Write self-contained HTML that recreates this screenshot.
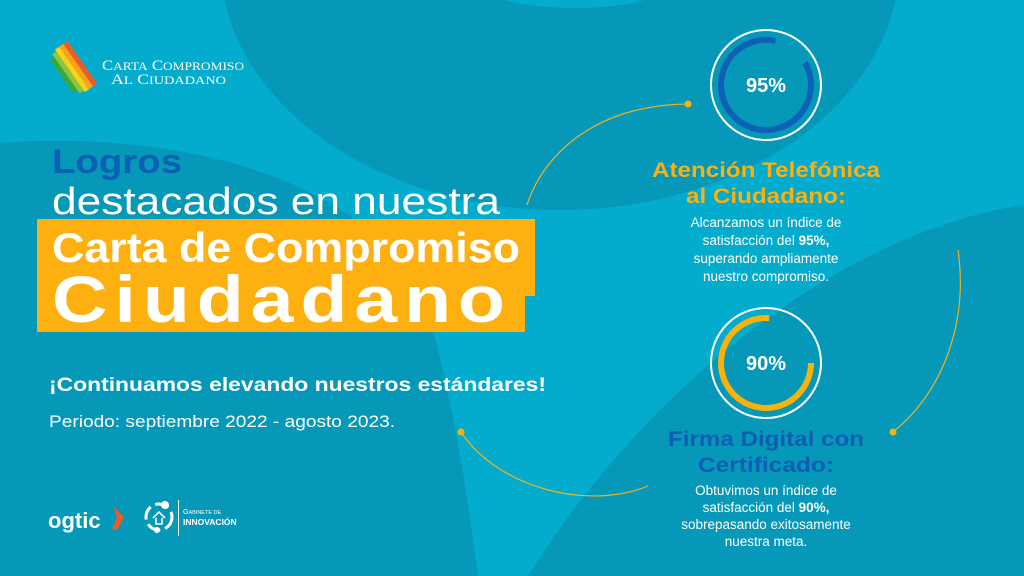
<!DOCTYPE html>
<html><head><meta charset="utf-8"><style>
html,body{margin:0;padding:0;width:1024px;height:576px;overflow:hidden;}
body{font-family:"Liberation Sans",sans-serif;}
</style></head><body>
<svg width="1024" height="576" viewBox="0 0 1024 576" xmlns="http://www.w3.org/2000/svg">
<rect width="1024" height="576" fill="#03abcd"/>
<ellipse cx="560" cy="-40" rx="340" ry="250" fill="#0598b9"/>
<ellipse cx="575" cy="-8" rx="80" ry="16" fill="#03abcd"/>
<path d="M0,143 C200,128 390,190 430,320 C455,410 468,500 478,576 L0,576 Z" fill="#0598b9"/>
<path d="M1024,205 C850,230 650,380 528,576 L1024,576 Z" fill="#0598b9"/>
<path d="M527,205 C545,150 600,105 688,104" fill="none" stroke="#f2b21c" stroke-width="1.2"/>
<circle cx="688" cy="104" r="3.5" fill="#f8b20a"/>
<path d="M958,250 C968,320 945,390 893,432" fill="none" stroke="#f2b21c" stroke-width="1.2"/>
<circle cx="893" cy="432" r="3.5" fill="#f8b20a"/>
<path d="M461,432 C500,490 590,510 648,486" fill="none" stroke="#f2b21c" stroke-width="1.2"/>
<circle cx="461" cy="432" r="3.5" fill="#f8b20a"/>
<g transform="translate(74,68) rotate(55)">
<rect x="-26" y="-10" width="52" height="5" fill="#f15a24"/>
<rect x="-26" y="-5" width="52" height="5" fill="#f7a21b"/>
<rect x="-26" y="0" width="52" height="5" fill="#fcd116"/>
<rect x="-24" y="5" width="48" height="5" fill="#8cc63f"/>
<rect x="-20" y="10" width="40" height="5" fill="#39a935"/>
</g>
<text x="102" y="70" fill="#fff" font-family="Liberation Serif,serif" font-size="15" textLength="142" lengthAdjust="spacingAndGlyphs">C<tspan font-size="12">ARTA</tspan> C<tspan font-size="12">OMPROMISO</tspan></text>
<text x="111" y="84" fill="#fff" font-family="Liberation Serif,serif" font-size="15" textLength="115" lengthAdjust="spacingAndGlyphs">A<tspan font-size="12">L</tspan> C<tspan font-size="12">IUDADANO</tspan></text>
<text x="52" y="173" fill="#0b5fb5" font-weight="bold" font-size="34" textLength="130" lengthAdjust="spacingAndGlyphs">Logros</text>
<text x="52" y="214" fill="#fff" font-size="38" textLength="448" lengthAdjust="spacingAndGlyphs">destacados en nuestra</text>
<path d="M37,219 H535 V296 H525 V332 H37 Z" fill="#fdb00f"/>
<text x="52" y="262" fill="#fff" font-weight="bold" font-size="42" textLength="468" lengthAdjust="spacingAndGlyphs">Carta de Compromiso</text>
<text x="52" y="322" fill="#fff" font-weight="bold" font-size="66" letter-spacing="6" textLength="460" lengthAdjust="spacingAndGlyphs">Ciudadano</text>
<text x="49" y="391" fill="#fff" font-weight="bold" font-size="19" textLength="497" lengthAdjust="spacingAndGlyphs">¡Continuamos elevando nuestros estándares!</text>
<text x="49" y="427" fill="#fff" font-size="17" textLength="346" lengthAdjust="spacingAndGlyphs">Periodo: septiembre 2022 - agosto 2023.</text>
<circle cx="766" cy="85" r="55" fill="none" stroke="#fff" stroke-width="2"/>
<circle cx="766" cy="85" r="45" fill="none" stroke="#0d62b8" stroke-width="6" stroke-dasharray="245 38" transform="rotate(-30 766 85)"/>
<text x="766" y="92" fill="#fff" font-weight="bold" font-size="20" text-anchor="middle">95%</text>
<circle cx="766" cy="363" r="55" fill="none" stroke="#fff" stroke-width="2"/>
<circle cx="766" cy="363" r="45" fill="none" stroke="#f8b20a" stroke-width="6" stroke-dasharray="215 68" transform="rotate(0 766 363)"/>
<text x="766" y="370" fill="#fff" font-weight="bold" font-size="20" text-anchor="middle">90%</text>
<g text-anchor="middle" font-weight="bold" font-size="21">
<text x="766" y="177" fill="#fbb10f" textLength="228" lengthAdjust="spacingAndGlyphs">Atención Telefónica</text>
<text x="766" y="203" fill="#fbb10f" textLength="160" lengthAdjust="spacingAndGlyphs">al Ciudadano:</text>
<text x="766" y="446" fill="#0d5db3" textLength="196" lengthAdjust="spacingAndGlyphs">Firma Digital con</text>
<text x="766" y="472" fill="#0d5db3" textLength="136" lengthAdjust="spacingAndGlyphs">Certificado:</text>
</g>
<g text-anchor="middle" font-size="13.5" fill="#fff">
<text x="766" y="227">Alcanzamos un índice de</text>
<text x="766" y="245">satisfacción del <tspan font-weight="bold">95%,</tspan></text>
<text x="766" y="263">superando ampliamente</text>
<text x="766" y="281">nuestro compromiso.</text>
<text x="766" y="495">Obtuvimos un índice de</text>
<text x="766" y="512">satisfacción del <tspan font-weight="bold">90%,</tspan></text>
<text x="766" y="529">sobrepasando exitosamente</text>
<text x="766" y="546">nuestra meta.</text>
</g>
<text x="48" y="528" fill="#fff" font-weight="bold" font-size="22">ogtic</text>
<path d="M113,506 L124,517 L117,530 L112,530 L117,517 Z" fill="#f15a24"/>
<circle cx="159" cy="517" r="13" fill="none" stroke="#fff" stroke-width="3" stroke-dasharray="14 5"/>
<circle cx="165" cy="505" r="4" fill="#fff"/><circle cx="157" cy="530" r="3" fill="#fff"/>
<path d="M153,518 L159,512 L165,518 M156,518 V524 H162 V518" fill="none" stroke="#fff" stroke-width="1.6"/>
<rect x="178" y="500" width="1" height="36" fill="#fff"/>
<text x="183" y="514" fill="#fff" font-size="7">G<tspan font-size="5.5">ABINETE DE</tspan></text>
<text x="183" y="525" fill="#fff" font-size="8.5" font-weight="bold">INNOVACIÓN</text>
</svg>
</body></html>
